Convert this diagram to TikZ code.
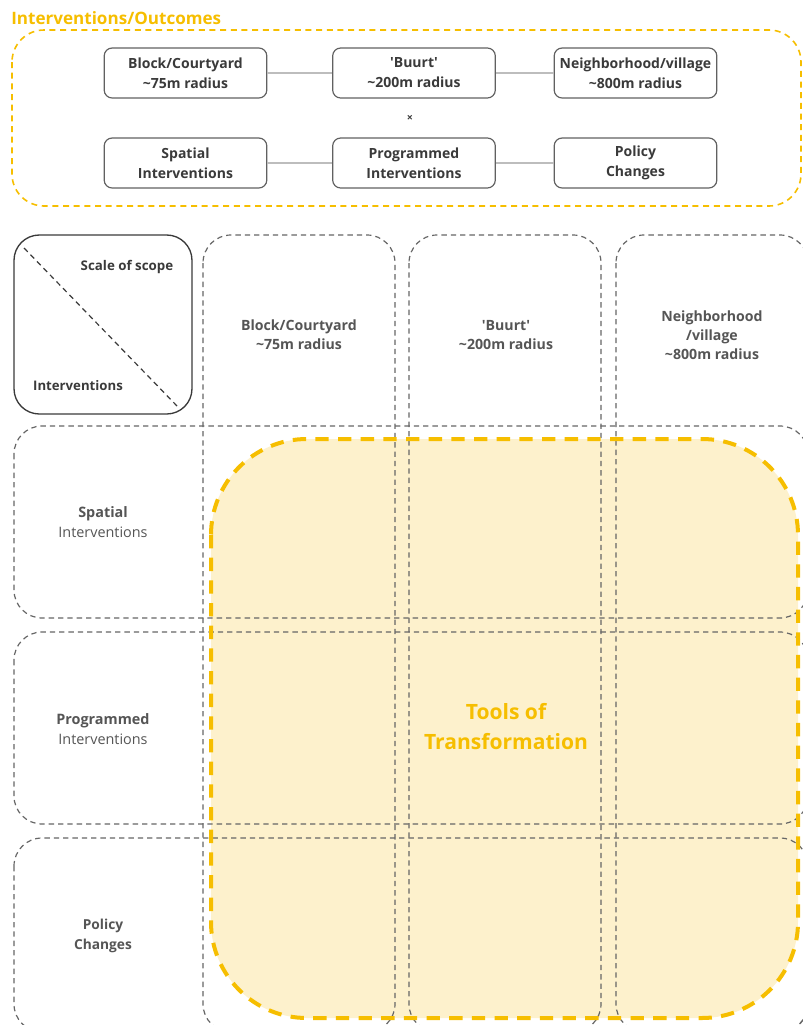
\documentclass[tikz,border=0pt]{standalone}
\usepackage{fontspec}
\setmainfont{Open Sans}
\definecolor{ttlorange}{HTML}{F6BE00}
\definecolor{fillyel}{HTML}{FDF1CC}
\definecolor{dgray}{HTML}{3A3A3A}
\definecolor{mgray}{HTML}{555555}
\definecolor{lgray}{HTML}{BDBDBD}
\definecolor{dashgray}{HTML}{666666}
\begin{document}
\begin{tikzpicture}[x=0.75pt,y=-0.75pt,
  topbox/.style={draw=dgray!80,line width=0.9pt,rounded corners=6pt,minimum width=122pt,minimum height=37.5pt,inner sep=0pt,align=center,font=\bfseries\fontsize{10.5}{15}\selectfont,text=dgray},
  link/.style={draw=lgray,line width=1.1pt},
  cell/.style={draw=dashgray,line width=0.9pt,dash pattern=on 4pt off 3pt,rounded corners=21pt},
  hdr/.style={align=center,text=mgray,font=\bfseries\fontsize{10.6}{14.3}\selectfont},
  rowlab/.style={align=center,text=mgray,font=\fontsize{10.8}{15}\selectfont}]
\useasboundingbox (0,0) rectangle (803,1025);
% title
\node[anchor=west,inner sep=0pt,text=ttlorange,font=\bfseries\fontsize{12.8}{15}\selectfont] (title) at (11,18) {Interventions/Outcomes};
% outer dashed frame
\draw[ttlorange,line width=1.2pt,dash pattern=on 4.5pt off 3.5pt,rounded corners=24pt] (12,30) rectangle (801,206);
% top boxes
\node[topbox] (b1) at (185.5,73) {Block/Courtyard\\\textasciitilde75m radius};
\node[topbox] (b2) at (414,73) {\textquotesingle Buurt\textquotesingle\\\textasciitilde200m radius};
\node[topbox] (b3) at (635.5,73) {Neighborhood/village\\\textasciitilde800m radius};
\node[topbox] (i1) at (185.5,163) {Spatial\\Interventions};
\node[topbox] (i2) at (414,163) {Programmed\\Interventions};
\node[topbox] (i3) at (635.5,163) {Policy\\Changes};
\draw[link] (b1) -- (b2);
\draw[link] (b2) -- (b3);
\draw[link] (i1) -- (i2);
\draw[link] (i2) -- (i3);
\node[text=dgray,font=\bfseries\fontsize{8}{9}\selectfont,inner sep=0pt] (times) at (410,118) {×};
% big yellow fill
\fill[fillyel,rounded corners=72pt] (211,439) rectangle (798,1018);
% grid cells
\draw[cell] (203,235) rectangle (395,1032);
\draw[cell] (409,235) rectangle (601,1032);
\draw[cell] (616,235) rectangle (808,1032);
\draw[cell] (14,426) rectangle (808,618);
\draw[cell] (14,632) rectangle (808,824);
\draw[cell] (14,838) rectangle (808,1032);
% big yellow dashed border
\draw[ttlorange,line width=3pt,dash pattern=on 10pt off 7pt,rounded corners=72pt] (211,439) rectangle (798,1018);
% header cell
\draw[dgray,line width=1pt,rounded corners=19pt] (14,235) rectangle (192,414);
\draw[dgray,line width=0.9pt,dash pattern=on 4pt off 3pt] (24,248) -- (178,407);
\node[hdr,text=dgray,font=\bfseries\fontsize{10}{13}\selectfont] (scope) at (127,267) {Scale of scope};
\node[hdr,text=dgray,font=\bfseries\fontsize{9.9}{13}\selectfont] (intv) at (78,386) {Interventions};
% column headers
\node[hdr] (c1) at (299,335) {Block/Courtyard\\\textasciitilde75m radius};
\node[hdr] (c2) at (506,335) {\textquotesingle Buurt\textquotesingle\\\textasciitilde200m radius};
\node[hdr] (c3) at (712,335) {Neighborhood\\/village\\\textasciitilde800m radius};
% row labels
\node[rowlab] (r1) at (103,522) {\textbf{Spatial}\\Interventions};
\node[rowlab] (r2) at (103,729) {\textbf{Programmed}\\Interventions};
\node[rowlab,font=\bfseries\fontsize{10.3}{15}\selectfont] (r3) at (103,936) {Policy\\Changes};
% center label
\node[align=center,text=ttlorange,font=\bfseries\fontsize{15.8}{22.5}\selectfont] (tools) at (506,727) {Tools of\\Transformation};
\end{tikzpicture}
\end{document}
